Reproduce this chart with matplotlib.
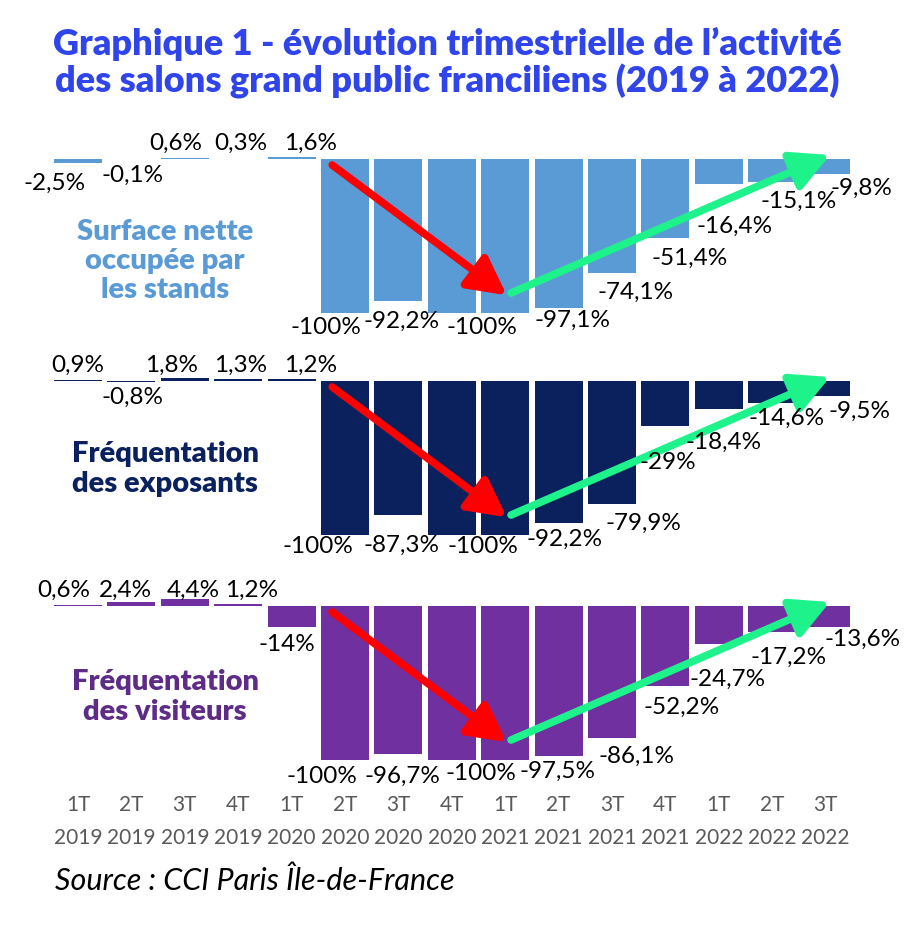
import matplotlib
matplotlib.use("Agg")
import matplotlib.pyplot as plt

#Quarter labels for the x axis
quarters = ["1T", "2T", "3T", "4T", "1T", "2T", "3T", "4T", "1T", "2T", "3T", "4T", "1T", "2T", "3T"]
years = ["2019", "2019", "2019", "2019", "2020", "2020", "2020", "2020",
         "2021", "2021", "2021", "2021", "2022", "2022", "2022"]

#Evolution in % versus the same quarter of the reference year
surface = [-2.5, -0.1, 0.6, 0.3, 1.6, -100, -92.2, -100, -100, -97.1, -74.1, -51.4, -16.4, -15.1, -9.8]
exposants = [0.9, -0.8, 1.8, 1.3, 1.2, -100, -87.3, -100, -100, -92.2, -79.9, -29, -18.4, -14.6, -9.5]
visiteurs = [0.6, 2.4, 4.4, 1.2, -14, -100, -96.7, -100, -100, -97.5, -86.1, -52.2, -24.7, -17.2, -13.6]

panel_names = ["Surface nette\noccupée par\nles stands",
               "Fréquentation\ndes exposants",
               "Fréquentation\ndes visiteurs"]

title = "Graphique 1 - évolution trimestrielle de l’activité\ndes salons grand public franciliens (2019 à 2022)"
source = "Source : CCI Paris Île-de-France"

#--- layout / style (pixels on a 914x932 canvas) ---
W, H = 914, 932
PX_PER_BAR = 53.4
X0 = 78            # pixel centre of the first bar
PX_PER_PCT = 1.535
colors = ["#5B9BD5", "#0B215E", "#7030A0"]
name_colors = ["#5B9BD5", "#0B215E", "#5E2C87"]
baselines = [159, 381, 606]
name_y = [261, 469, 697]

#label placement: x shift in bars, y centre in %
lab_dx = [[-0.43, 0.02, -0.17, 0.04, 0.36, -0.36, 0.06, 0.56, -0.44, 0.26, 0.45, 0.45, 0.30, 0.49, 0.67],
          [0.0, 0.02, -0.24, 0.04, 0.36, -0.50, 0.06, 0.58, -0.42, 0.11, 0.58, 0.04, 0.08, 0.26, 0.64],
          [-0.26, -0.11, 0.15, 0.26, -0.09, -0.43, 0.08, 0.54, -0.46, -0.02, 0.45, 0.31, 0.17, 0.30, 0.69]]
lab_y = [[-15.6, -10.4, 10.4, 10.4, 10.4, -110, -106, -110, -110, -105, -86.6, -64.5, -43.6, -27.4, -18.9],
         [10.4, -10.4, 10.4, 10.4, 10.4, -107.5, -107, -108, -108, -103, -92.5, -52.8, -39.7, -24.1, -19.5],
         [10.4, 10.4, 10.4, 10.4, -25, -111, -111, -109, -109, -108, -98, -66, -47.7, -33.3, -22]]

VALUE_FONT = "Lato"
HEAVY_FONT = "Lato"


def fmt(v):
    return f"{v:g}".replace(".", ",") + "%"


def draw_panel(fig, idx, values):
    b = baselines[idx]
    top_px, bot_px = 60, 200
    ax = fig.add_axes([0, 1 - (b + bot_px) / H, 1, (top_px + bot_px) / H])
    ax.set_xlim(-X0 / PX_PER_BAR, (W - X0) / PX_PER_BAR)
    ax.set_ylim(-bot_px / PX_PER_PCT, top_px / PX_PER_PCT)
    ax.axis("off")
    ax.patch.set_alpha(0)

    xs = list(range(len(values)))
    ax.bar(xs, values, width=0.9, color=colors[idx], zorder=2)

    drawn = set()
    for i, v in enumerate(values):
        x = round(i + lab_dx[idx][i], 2)
        key = (x, lab_y[idx][i], fmt(v))
        #Excel stacks identical labels on top of each other, only one shows
        if key in drawn:
            continue
        drawn.add(key)
        ax.text(x, lab_y[idx][i], fmt(v), ha="center", va="center",
                fontsize=17.5, family=VALUE_FONT, color="black", zorder=5, clip_on=False)

    #trend arrows, down then back up
    style = "-|>,head_length=1.05,head_width=0.55"
    ax.annotate("", xy=(8.03, -88.8), xytext=(4.76, -3.9),
                arrowprops=dict(arrowstyle=style, lw=5.5, color="#FF0000",
                                mutation_scale=22, shrinkA=0, shrinkB=0), zorder=4)
    ax.annotate("", xy=(14.08, 2.6), xytext=(8.11, -87.3),
                arrowprops=dict(arrowstyle=style, lw=5.5, color="#1EF28A",
                                mutation_scale=22, shrinkA=0, shrinkB=0), zorder=4)

    fig.text(165 / W, 1 - name_y[idx] / H, panel_names[idx], ha="center", va="center",
             fontsize=21, fontweight="heavy", family=HEAVY_FONT, color=name_colors[idx],
             linespacing=1.15)
    return ax


fig = plt.figure(figsize=(W / 100, H / 100), dpi=100)

fig.text(447 / W, 1 - 63 / H, title, ha="center", va="center", fontsize=26,
         fontweight="heavy", family=HEAVY_FONT, color="#2F45EB", linespacing=1.08)

axes = []
for k, vals in enumerate([surface, exposants, visiteurs]):
    axes.append(draw_panel(fig, k, vals))

#x axis labels under the last panel
ax3 = axes[2]
for i in range(len(quarters)):
    ax3.text(i, -(805 - baselines[2]) / PX_PER_PCT, quarters[i], ha="center", va="center",
             fontsize=15, family=VALUE_FONT, color="#595959", clip_on=False)
    ax3.text(i, -(838 - baselines[2]) / PX_PER_PCT, years[i], ha="center", va="center",
             fontsize=15, family=VALUE_FONT, color="#595959", clip_on=False)

fig.text(55 / W, 1 - 881 / H, source, ha="left", va="center", fontsize=22,
         style="italic", family=VALUE_FONT, color="black")

fig.savefig("out.png", dpi=100)
